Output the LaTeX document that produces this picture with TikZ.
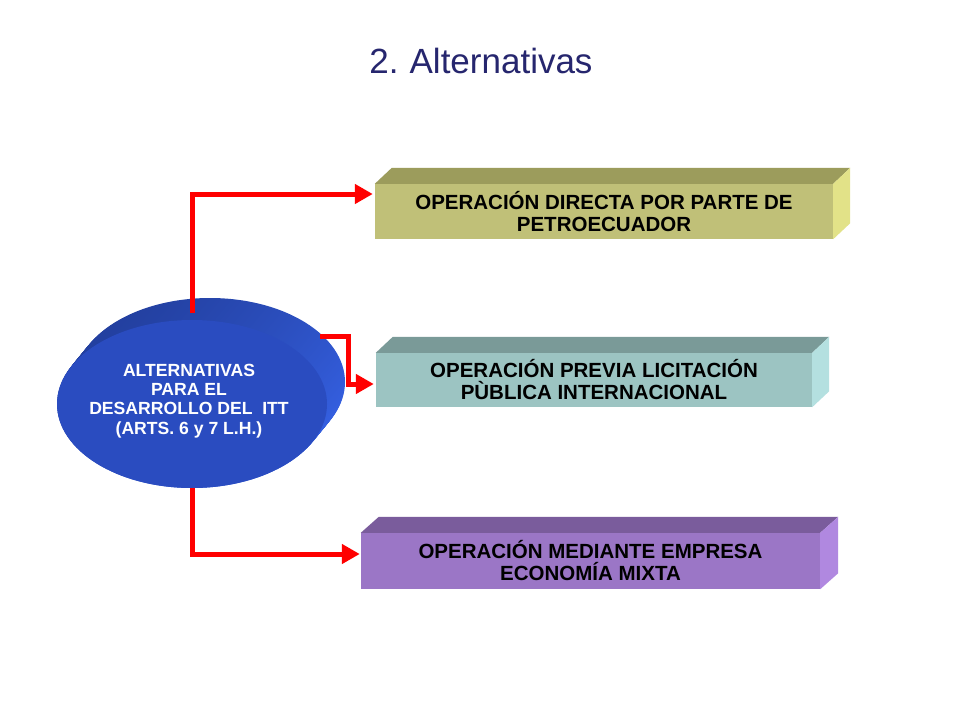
\documentclass[tikz,border=0pt]{standalone}
\usepackage{fontspec}
\setmainfont{Liberation Sans}
\usetikzlibrary{shapes.geometric,arrows.meta}
\definecolor{titlecol}{HTML}{26266E}
\definecolor{arrred}{HTML}{FF0000}
\definecolor{ellfront}{HTML}{2A4CC0}
\definecolor{elldark}{HTML}{2340A0}
\definecolor{ellbright}{HTML}{3560E2}
\definecolor{aFront}{HTML}{C0C078}
\definecolor{aTop}{HTML}{9C9C5C}
\definecolor{aSide}{HTML}{E2E288}
\definecolor{bFront}{HTML}{9CC4C2}
\definecolor{bTop}{HTML}{7A9A98}
\definecolor{bSide}{HTML}{B4E0E0}
\definecolor{cFront}{HTML}{9B76C6}
\definecolor{cTop}{HTML}{7A5C9C}
\definecolor{cSide}{HTML}{B088E0}
\tikzset{
  boxface/.style={rectangle, inner sep=0pt, align=center, text=black,
    font=\bfseries\fontsize{20.5}{22}\selectfont},
  arr/.style={draw=arrred, line width=5pt, -{Triangle[length=18pt,width=19pt]}},
  ellface/.style={ellipse, inner sep=0pt, minimum width=270pt, minimum height=168pt}
}
\newcommand{\cubeparts}[5]{%
  \fill[#4] (#1.north west) -- ++(#2,#3) -- ([shift={(#2,#3)}]#1.north east) -- (#1.north east) -- cycle;
  \fill[#5] (#1.north east) -- ++(#2,#3) -- ([shift={(#2,#3)}]#1.south east) -- (#1.south east) -- cycle;
}
\begin{document}
\begin{tikzpicture}[x=1pt,y=-1pt]
\useasboundingbox[fill=white] (0,0) rectangle (960,720);

% title
\node[font=\fontsize{35}{40}\selectfont, text=titlecol, anchor=base] (title) at (481,73) {2.\kern-2pt{} Alternativas};

% ellipse extrusion
\foreach \i in {0,...,22}{
  \shade[top color=elldark, bottom color=ellbright, shading angle=35]
    ({210-18*\i/22},{382+22*\i/22}) ellipse [x radius=135pt, y radius=84pt];
}
\node[ellface, fill=ellfront] (e) at (192,404) {};
\node[text=white, align=center, font=\bfseries\fontsize{17.6}{19.3}\selectfont] (etext) at (189,401)
  {ALTERNATIVAS\\PARA EL\\DESARROLLO DEL\ \ ITT\\(ARTS. 6 y 7 L.H.)};

% boxes
\node[boxface, fill=aFront, minimum width=458pt, minimum height=55pt] (b1) at (604,211.5)
  {OPERACIÓN DIRECTA POR PARTE DE\\PETROECUADOR};
\cubeparts{b1}{17}{-16}{aTop}{aSide}
\node[boxface, fill=bFront, minimum width=436pt, minimum height=54pt] (b2) at (594,380)
  {OPERACIÓN PREVIA LICITACIÓN\\PÙBLICA INTERNACIONAL};
\cubeparts{b2}{17}{-16}{bTop}{bSide}
\node[boxface, fill=cFront, minimum width=459pt, minimum height=56pt] (b3) at (590.5,561)
  {OPERACIÓN MEDIANTE EMPRESA\\ECONOMÍA MIXTA};
\cubeparts{b3}{18}{-16}{cTop}{cSide}

% connectors
\coordinate (s2) at (320,336);
\draw[arr] ([yshift=7pt]e.north) |- ([xshift=-2pt,yshift=17.5pt]b1.west);
\draw[arr] (s2) -- ++(28,0) |- ([xshift=-2pt,yshift=-4pt]b2.west);
\draw[arr] (e.south) |- ([xshift=-1pt,yshift=7pt]b3.west);
\end{tikzpicture}
\end{document}
